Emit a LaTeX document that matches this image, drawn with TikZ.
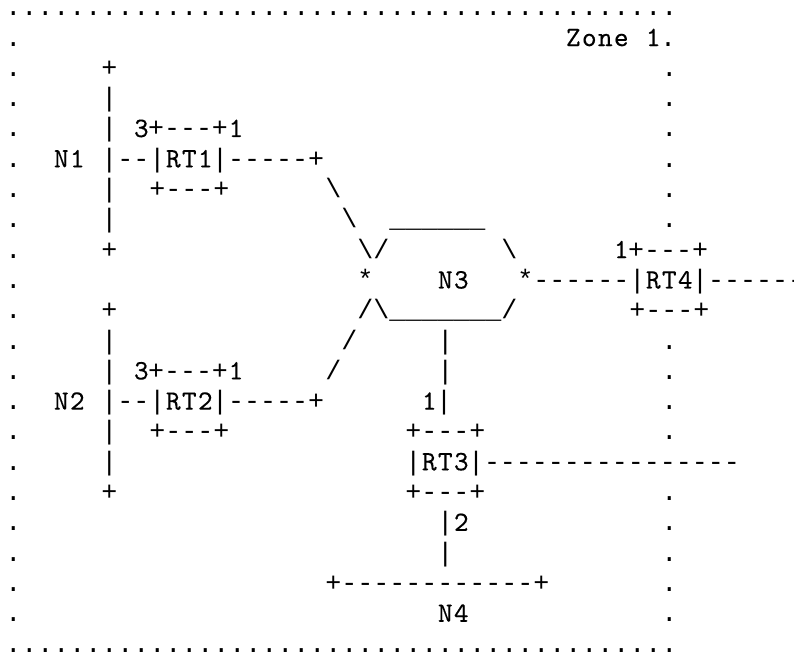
\documentclass[tikz,border=0pt]{standalone}
\usepackage{fontspec}
\newfontfamily\symfont{Liberation Mono}
\newfontfamily\lmfont{lmmono10-regular.otf}[LetterSpace=4.64,FakeBold=0.15]
\newcommand\T[1]{\kern0.325pt{\lmfont\fontsize{14pt}{15pt}\selectfont #1}\kern-0.325pt}
\newcommand\bsl{\textbackslash}
\newcommand\chr[3]{\node[asc] (n#1x#2) at ({5.3+16*#2},{15.8+30.3*(#1-1)}) {#3};}
\begin{document}
\begin{tikzpicture}[x=0.5pt,y=-0.5pt,
  asc/.style={anchor=base west,inner sep=0pt,outer sep=0pt,
    font=\symfont\fontsize{13.333pt}{15pt}\selectfont}]
\fill[white] (0,0) rectangle (794,652);
\useasboundingbox (0,0) rectangle (794,652);
% border rows
\chr{1}{0}{..........................................}
\chr{22}{0}{..........................................}
% left border
\foreach \r in {2,...,21} {\chr{\r}{0}{.}}
% right border
\foreach \r in {3,4,5,6,7,8,12,13,14,15,17,18,19,20,21} {\chr{\r}{41}{.}}
% line 2
\chr{2}{35}{\T{Zone}}
\chr{2}{40}{\T{1}.}
% N1 segment
\chr{3}{6}{+}
\chr{4}{6}{|}
\chr{5}{6}{|}
\chr{5}{8}{\T{3}+---+\T{1}}
\chr{6}{3}{\T{N1}}
\chr{6}{6}{|--|\T{RT1}|-----+}
\chr{7}{6}{|}
\chr{7}{9}{+---+}
\chr{7}{20}{\bsl}
\chr{8}{6}{|}
\chr{8}{21}{\bsl}
\chr{8}{24}{\_\_\_\_\_\_}
\chr{9}{6}{+}
% N3
\chr{9}{22}{\bsl/}
\chr{9}{31}{\bsl}
\chr{9}{38}{\T{1}+---+}
\chr{10}{22}{*}
\chr{10}{27}{\T{N3}}
\chr{10}{32}{*------|\T{RT4}|------}
\chr{11}{22}{/\bsl\_\_\_\_\_\_\_/}
\chr{11}{39}{+---+}
% N2 segment
\chr{11}{6}{+}
\chr{12}{6}{|}
\chr{12}{21}{/}
\chr{12}{27}{|}
\chr{13}{6}{|}
\chr{13}{8}{\T{3}+---+\T{1}}
\chr{13}{20}{/}
\chr{13}{27}{|}
\chr{14}{3}{\T{N2}}
\chr{14}{6}{|--|\T{RT2}|-----+}
\chr{14}{26}{\T{1}|}
\chr{15}{6}{|}
\chr{15}{9}{+---+}
\chr{15}{25}{+---+}
\chr{16}{6}{|}
\chr{16}{25}{|\T{RT3}|----------------}
\chr{17}{6}{+}
\chr{17}{25}{+---+}
% N4
\chr{18}{27}{|\T{2}}
\chr{19}{27}{|}
\chr{20}{20}{+------------+}
\chr{21}{27}{\T{N4}}
\end{tikzpicture}
\end{document}
